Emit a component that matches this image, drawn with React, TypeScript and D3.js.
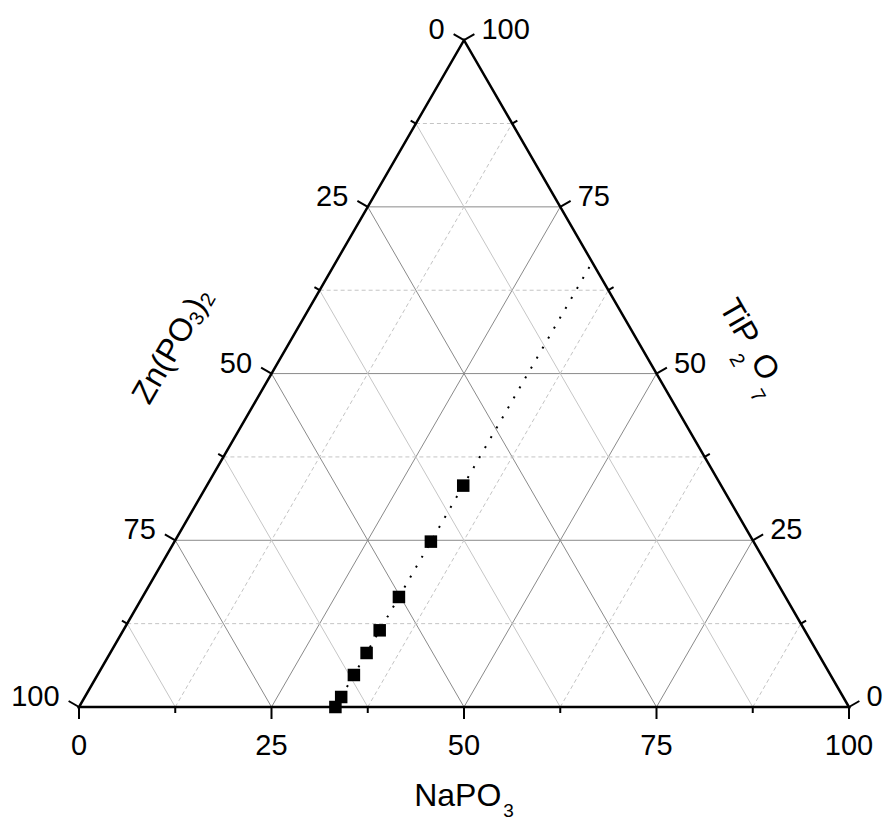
import React from "react";
import * as d3 from "d3";

// Data (ternary compositions, %)
const naPO3 = [33.3, 33.3, 33.3, 33.3, 33.3, 33.3, 33.3, 33.3];
const tiP2O7 = [0, 1.5, 4.8, 8.1, 11.5, 16.5, 24.8, 33.2];
const znPO32 = [66.7, 65.2, 61.9, 58.6, 55.2, 50.2, 41.9, 33.5];

// Guide (dotted) line of constant NaPO3
const guideNa = [33.3, 33.3];
const guideTi = [0, 66.7];

const majorTicks = [0, 25, 50, 75, 100];
const minorTicks = [12.5, 37.5, 62.5, 87.5];
const gridMajor = [25, 50, 75];

const FONT = "'Liberation Sans', Arial, Helvetica, sans-serif";

export default function App() {
  const W = 770;
  const x0 = 79;
  const y0 = 707;
  const H = (W * Math.sqrt(3)) / 2;
  const xS = d3.scaleLinear().domain([0, 100]).range([x0, x0 + W]);
  const yS = d3.scaleLinear().domain([0, 100]).range([y0, y0 - H]);
  // na: NaPO3 (bottom-right vertex), ti: TiP2O7 (top vertex)
  const pt = (na: number, ti: number): [number, number] => [xS(na + ti / 2), yS(ti)];

  const line = d3.line<[number, number]>();

  const gridLines: JSX.Element[] = [];
  const allGrid = [
    ...gridMajor.map((v) => ({ v, major: true })),
    ...minorTicks.map((v) => ({ v, major: false })),
  ];
  allGrid.forEach(({ v, major }, i) => {
    const majStyle = { stroke: "#8a8a8a", strokeWidth: 1 };
    const dashStyle = { stroke: "#c4c4c4", strokeWidth: 1, strokeDasharray: "4 3" };
    // family A: constant Ti (horizontal)
    const a = [pt(0, v), pt(100 - v, v)];
    gridLines.push(<path key={"a" + i} d={line(a as any)!} fill="none" {...(major ? majStyle : dashStyle)} />);
    // family B: constant Na (parallel to left side)
    const b = [pt(v, 0), pt(v, 100 - v)];
    gridLines.push(<path key={"b" + i} d={line(b as any)!} fill="none" {...(major ? majStyle : dashStyle)} />);
    // family C: constant Zn (parallel to right side)
    const c = [pt(100 - v, 0), pt(0, 100 - v)];
    gridLines.push(
      <path key={"c" + i} d={line(c as any)!} fill="none"
        {...(major ? majStyle : { stroke: "#c6c6c6", strokeWidth: 1 })} />
    );
  });

  const c60 = Math.cos(Math.PI / 6);
  const s60 = 0.5;
  const leftDir: [number, number] = [-c60, -s60];
  const rightDir: [number, number] = [c60, -s60];

  const ticks: JSX.Element[] = [];
  const labels: JSX.Element[] = [];
  const addTicks = (vals: number[], len: number, major: boolean) => {
    vals.forEach((v, i) => {
      const [bx, by] = pt(v, 0);
      ticks.push(<line key={`bt${major}${i}`} x1={bx} y1={by} x2={bx} y2={by + len} stroke="#000" strokeWidth={2} />);
      const [lx, ly] = pt(0, 100 - v);
      const lex = lx + leftDir[0] * len, ley = ly + leftDir[1] * len;
      ticks.push(<line key={`lt${major}${i}`} x1={lx} y1={ly} x2={lex} y2={ley} stroke="#000" strokeWidth={2} />);
      const [rx, ry] = pt(100 - v, v);
      const rex = rx + rightDir[0] * len, rey = ry + rightDir[1] * len;
      ticks.push(<line key={`rt${major}${i}`} x1={rx} y1={ry} x2={rex} y2={rey} stroke="#000" strokeWidth={2} />);
      if (major) {
        labels.push(
          <text key={`bl${i}`} x={bx} y={by + 48} textAnchor="middle">{v}</text>,
          <text key={`ll${i}`} x={lex - 9} y={ley + 5} textAnchor="end">{v}</text>,
          <text key={`rl${i}`} x={rex + 7} y={rey + 5} textAnchor="start">{v}</text>
        );
      }
    });
  };
  addTicks(majorTicks, 12, true);
  addTicks(minorTicks, 6, false);

  const tri = [pt(0, 0), pt(100, 0), pt(0, 100)];
  const guide = guideNa.map((n, i) => pt(n, guideTi[i]));
  const pts = naPO3.map((n, i) => ({ p: pt(n, tiP2O7[i]), zn: znPO32[i] }));
  const sq = 12.5;

  return (
    <svg width={888} height={823} style={{ position: "absolute", left: 0, top: 0, background: "#fff" }}
      fontFamily={FONT}>
      <rect width={888} height={823} fill="#fff" />
      <g>{gridLines}</g>
      <path d={line(guide as any)!} fill="none" stroke="#000" strokeWidth={2} strokeDasharray="2 9.5" />
      <path d={line(tri as any)! + "Z"} fill="none" stroke="#000" strokeWidth={2.5} strokeLinejoin="miter" />
      <g>{ticks}</g>
      <g fontSize={29} fill="#000">{labels}</g>
      {pts.map((d, i) => (
        <rect key={i} x={d.p[0] - sq / 2} y={d.p[1] - sq / 2} width={sq} height={sq} fill="#000" />
      ))}
      <text x={464} y={806} textAnchor="middle" fontSize={32}>
        NaPO<tspan fontSize={19} dy={11} dx={2}>3</tspan>
      </text>
      <text transform="translate(181,351) rotate(-60)" textAnchor="middle" fontSize={32}>
        Zn(PO<tspan fontSize={20} dy={4}>3</tspan><tspan dy={-4}>)</tspan><tspan fontSize={20} dy={4}>2</tspan>
      </text>
      <text transform="translate(744,351) rotate(60)" textAnchor="middle" fontSize={32}>
        TiP<tspan fontSize={20} dy={17} dx={3}>2</tspan><tspan dy={-17} dx={2}>O</tspan><tspan fontSize={20} dy={17} dx={3}>7</tspan>
      </text>
    </svg>
  );
}
